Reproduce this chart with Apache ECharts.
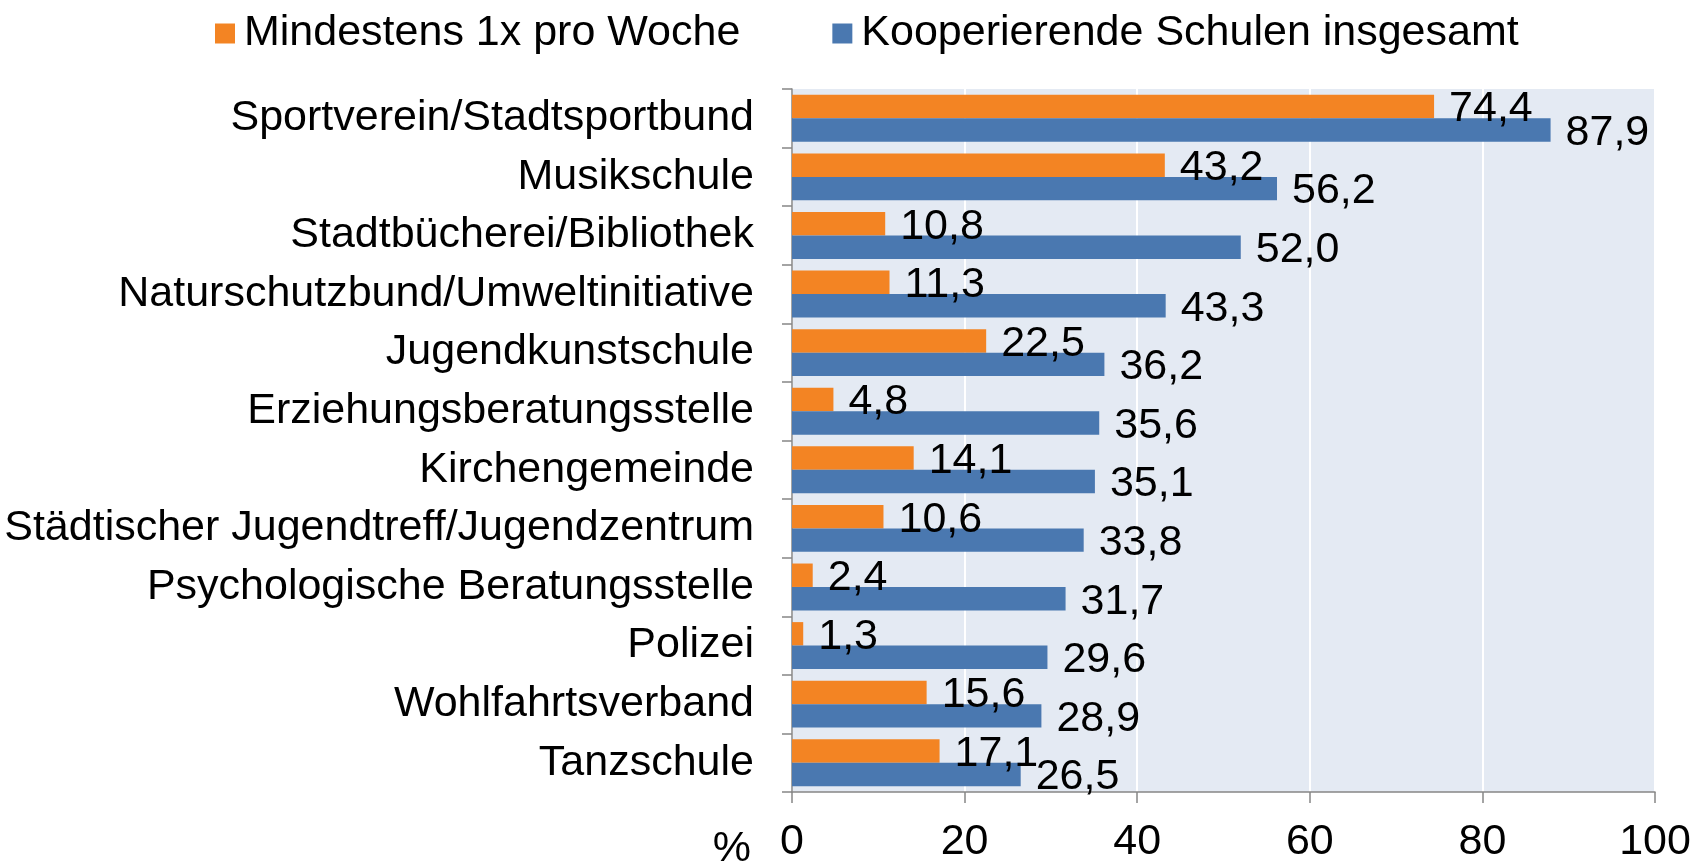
<!DOCTYPE html>
<html>
<head>
<meta charset="utf-8">
<script src="https://cdn.jsdelivr.net/npm/echarts@6/dist/echarts.min.js"></script>
<style>
  html, body { margin: 0; padding: 0; background: #fff; }
  #chart { width: 1707px; height: 864px; }
</style>
</head>
<body>
<div id="chart"></div>
<script>
var categories = ['Sportverein/Stadtsportbund', 'Musikschule', 'Stadtbücherei/Bibliothek',
    'Naturschutzbund/Umweltinitiative', 'Jugendkunstschule', 'Erziehungsberatungsstelle',
    'Kirchengemeinde', 'Städtischer Jugendtreff/Jugendzentrum', 'Psychologische Beratungsstelle',
    'Polizei', 'Wohlfahrtsverband', 'Tanzschule'];
var weekly = [74.4, 43.2, 10.8, 11.3, 22.5, 4.8, 14.1, 10.6, 2.4, 1.3, 15.6, 17.1];
var total = [87.9, 56.2, 52.0, 43.3, 36.2, 35.6, 35.1, 33.8, 31.7, 29.6, 28.9, 26.5];
var xTicks = [0, 20, 40, 60, 80, 100];
var seriesNames = ['Mindestens 1x pro Woche', 'Kooperierende Schulen insgesamt'];

var myChart = echarts.init(document.getElementById('chart'));
var font = 'Liberation Sans, Arial, sans-serif';
var fs = 43;

function komma(p) {
    return p.value.toFixed(1).replace('.', ',');
}

var option = {
    textStyle: { fontFamily: font },
    legend: {
        left: 210, top: 7,
        itemWidth: 20, itemHeight: 20,
        itemGap: 92,
        icon: 'rect',
        textStyle: { fontSize: fs, color: '#000', fontFamily: font, padding: [0, 0, 0, 4] },
        data: seriesNames
    },
    grid: {
        left: 792, top: 89, right: 52, bottom: 68,
        show: true, backgroundColor: '#E4EAF3', borderWidth: 0
    },
    xAxis: {
        type: 'value',
        min: xTicks[0], max: xTicks[xTicks.length - 1], interval: 20,
        axisLine: { show: true, lineStyle: { color: '#868686', width: 1.5 } },
        axisTick: { show: true, length: 11, lineStyle: { color: '#868686', width: 1.5 } },
        axisLabel: { fontSize: fs, color: '#000', margin: 29, fontFamily: font },
        splitLine: { show: true, lineStyle: { color: '#ffffff', width: 2 } }
    },
    yAxis: {
        type: 'category',
        inverse: true,
        data: categories,
        axisLine: { show: true, lineStyle: { color: '#868686', width: 1.5 } },
        axisTick: { show: true, length: 10, lineStyle: { color: '#868686', width: 1.5 } },
        axisLabel: { fontSize: fs, color: '#000', margin: 38, fontFamily: font, padding: [4, 0, 0, 0] }
    },
    series: [{
        name: seriesNames[0],
        type: 'bar',
        data: weekly,
        barGap: '0%',
        barCategoryGap: '20%',
        itemStyle: { color: '#F38423' },
        label: { show: true, position: 'right', distance: 15, offset: [0, 3], fontSize: fs, color: '#000', fontFamily: font, formatter: komma }
    }, {
        name: seriesNames[1],
        type: 'bar',
        data: total,
        barGap: '0%',
        barCategoryGap: '20%',
        itemStyle: { color: '#4A78B0' },
        label: { show: true, position: 'right', distance: 15, offset: [0, 3], fontSize: fs, color: '#000', fontFamily: font, formatter: komma }
    }],
    graphic: [{
        type: 'text',
        right: 1707 - 751, top: 828,
        style: { text: '%', fill: '#000', font: fs + 'px ' + font }
    }],
    animation: false
};

myChart.setOption(option);
</script>
</body>
</html>
